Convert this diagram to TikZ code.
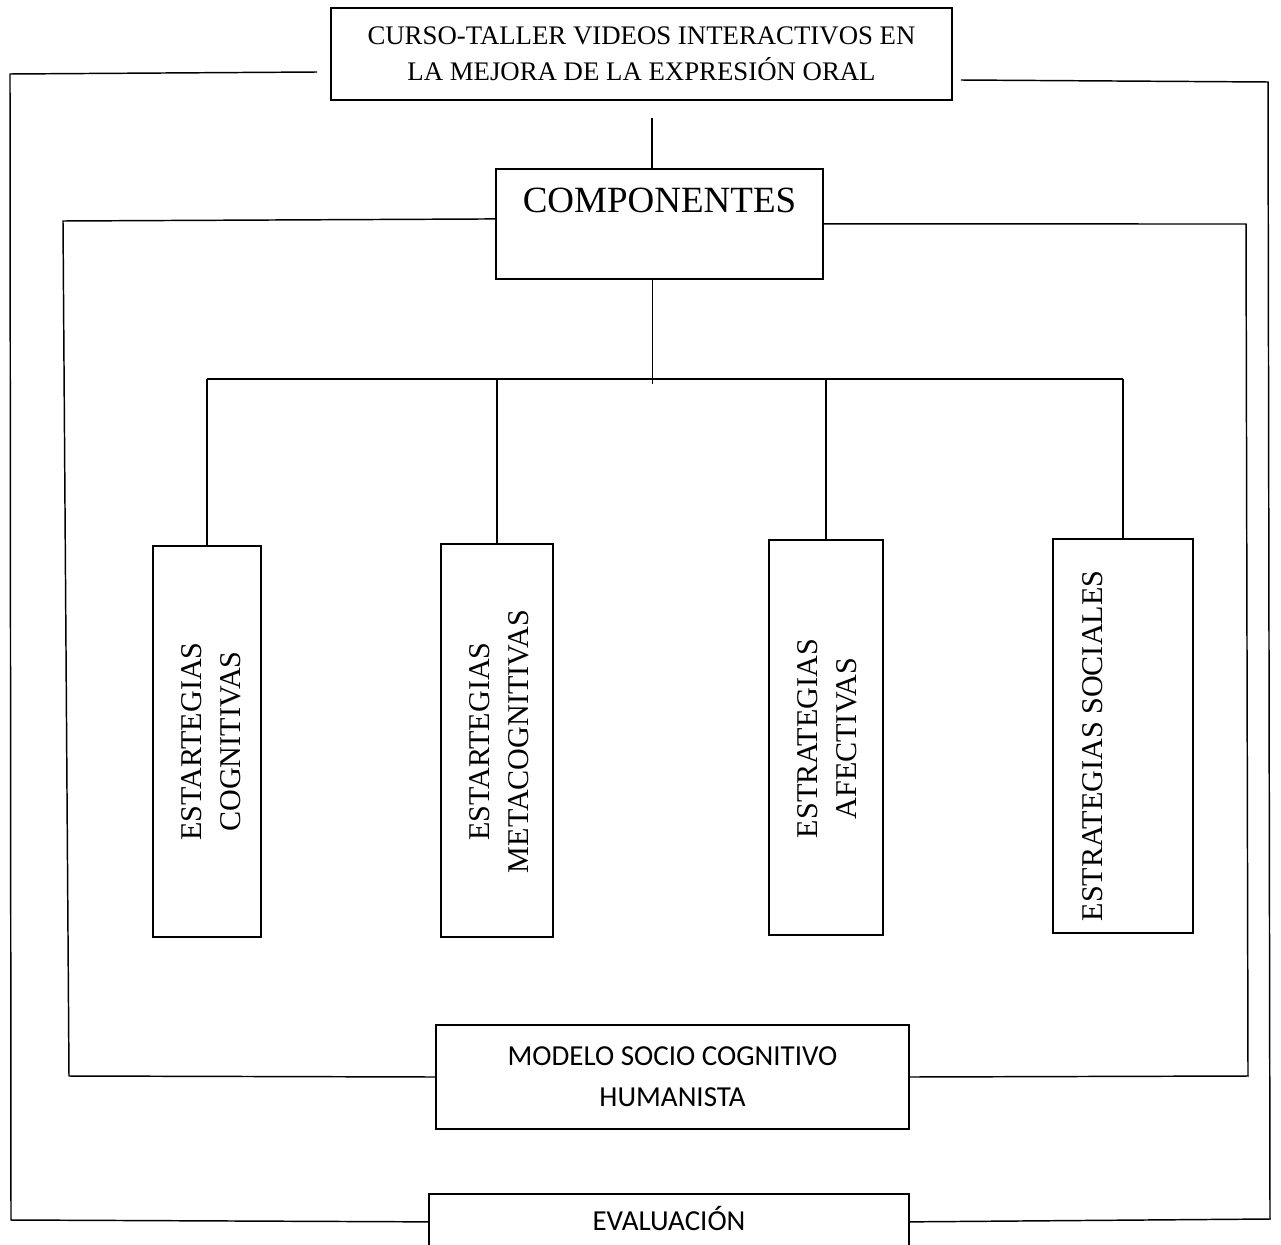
\documentclass[tikz,border=0pt]{standalone}
\usepackage{fontspec}
\setmainfont{Liberation Serif}
\newfontfamily\calibri{Carlito}
\usepackage{tikz}
\usetikzlibrary{calc, positioning}
\tikzset{
  caja/.style={draw, line width=1.3pt, inner sep=0pt, align=center},
  linea/.style={line width=1.1pt},
  vtexto/.style={rotate=90, inner sep=0pt, align=center, font=\fontsize{22.6}{29}\selectfont},
}

\begin{document}
\begin{tikzpicture}[x=0.75pt, y=-0.75pt]
\useasboundingbox (0,0) rectangle (1281,1245);
\clip (0,0) rectangle (1281,1245);
\node[caja, minimum width=465.75pt, minimum height=69pt, font=\fontsize{20.1}{27}\selectfont] (curso) at (641.5,54) {CURSO-TALLER VIDEOS INTERACTIVOS EN\\LA MEJORA DE LA EXPRESIÓN ORAL};
\node[caja, anchor=north, minimum width=245.25pt, text height=32.9pt, text depth=49.7pt, font=\fontsize{27.75}{32}\selectfont] (comp) at (659.5,168) {COMPONENTES};
\node[caja, minimum width=81pt, minimum height=293.25pt] (cog) at (207,741.5) {};
\node[caja, minimum width=84pt, minimum height=294.75pt] (meta) at (497,740.5) {};
\node[caja, minimum width=85.5pt, minimum height=296.25pt] (afec) at (826,737.5) {};
\node[caja, minimum width=105pt, minimum height=295.5pt] (soc) at (1123,736) {};
\node[vtexto, anchor=north] (cogT) at ($(cog.west)+(29,0)$) {ESTARTEGIAS\\COGNITIVAS};
\node[vtexto, anchor=north] (metaT) at ($(meta.west)+(29,1)$) {ESTARTEGIAS\\METACOGNITIVAS};
\node[vtexto, anchor=north] (afecT) at ($(afec.west)+(29,1)$) {ESTRATEGIAS\\AFECTIVAS};
\node[vtexto, anchor=north] (socT) at ($(soc.west)+(30,10)$) {ESTRATEGIAS SOCIALES};
\node[caja, minimum width=354.75pt, minimum height=78pt, font=\calibri\fontsize{21.75}{30.75}\selectfont] (modelo) at (672.5,1077) {MODELO SOCIO COGNITIVO\\HUMANISTA};
\node[caja, anchor=north, minimum width=360pt, text height=27.75pt, text depth=14.25pt, font=\calibri\fontsize{21.75}{26}\selectfont] (eval) at (669,1193) {EVALUACIÓN};

\coordinate (stub) at (652,118);
\coordinate (bus) at (0,379);
\draw[linea] (stub) -- (stub |- comp.north);
\draw[linea] ($(comp.south)+(-7,0)$) -- ++(0,104);
\draw[linea] (cog.north |- bus) -- (soc.north |- bus);
\foreach \n in {cog, meta, afec, soc}
  \draw[linea] (\n.north) -- (\n.north |- bus);

\draw[linea] ($(curso.west)+(-13,18)$) -- (10,74) -- (11,1220) -- (eval.west);
\draw[linea] ($(curso.east)+(8,26)$) -- (1268,82) -- (1270,1219) -- (eval.east);
\draw[linea] ($(comp.west)+(0,-5)$) -- (63,221) -- (69,1076) -- (modelo.west);
\draw[linea] (comp.east) -- (1246,224) -- (1248,1076) -- (modelo.east);
\end{tikzpicture}
\end{document}
